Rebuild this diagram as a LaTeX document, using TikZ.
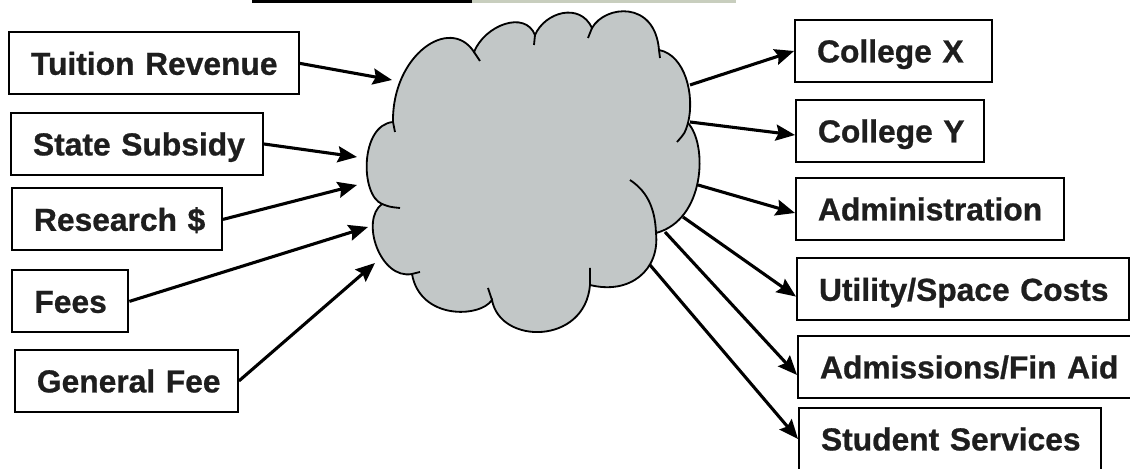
\documentclass[tikz,border=0pt]{standalone}
\usepackage{fontspec}
\newfontfamily\boxfont{Liberation Sans Bold}[FakeBold=0.8]
\usetikzlibrary{arrows.meta}
\definecolor{cloudgray}{RGB}{194,199,199}
\definecolor{rulefade}{RGB}{200,206,190}
\definecolor{inkgray}{RGB}{30,30,30}
\hyphenpenalty=10000
\exhyphenpenalty=10000

\begin{document}
\begin{tikzpicture}[
  >={Stealth[length=0.48cm,width=0.4cm,inset=0.07cm]},
  box/.style={draw,line width=1.4pt,minimum height=1.55cm,inner xsep=0.55cm,
    align=left,text height=16.2pt,text depth=0pt,text=inkgray,
    font=\boxfont\fontsize{22.6}{26}\selectfont},
  flow/.style={->,line width=2.2pt}
]
\useasboundingbox (0,0) rectangle (28.25,11.725);
% title rule, cut by the top edge
\draw[line width=2.2pt] (6.3,11.69)--(11.8,11.69);
\draw[line width=2.2pt,rulefade] (11.8,11.69)--(18.4,11.69);
% the cloud
\filldraw[fill=cloudgray,line width=1.3pt]
  (9.825,8.675) .. controls (9.8,10.35) and (11.25,11.35) .. (11.85,10.425)
  .. controls (12.125,11.1) and (13.125,11.475) .. (13.375,10.85)
  .. controls (13.625,11.425) and (14.5,11.675) .. (14.8,11.025)
  .. controls (15.125,11.6) and (16.375,11.725) .. (16.475,10.475)
  .. controls (17.125,10.35) and (17.375,9.35) .. (17.2,8.65)
  .. controls (17.7,8.1) and (17.625,6.225) .. (16.4,5.9)
  .. controls (16.5,4.975) and (15.75,4.35) .. (14.75,4.6)
  .. controls (14.625,3.1) and (12.5,3.1) .. (12.3,4.225)
  .. controls (12.0,3.775) and (10.5,3.725) .. (10.3,4.875)
  .. controls (9.5,4.725) and (9.0,6.225) .. (9.55,6.625)
  .. controls (9.0,6.85) and (9.0,8.6) .. (9.825,8.675) -- cycle;
\draw[line width=1.3pt]
  (9.825,8.675) -- (9.875,8.425)
  (11.85,10.425) -- (12.0,10.2)
  (13.375,10.85) -- (13.35,10.6)
  (14.8,11.025) -- (14.7,10.775)
  (16.475,10.475) -- (16.5,10.275)
  (17.2,8.65) .. controls (17.125,8.4) .. (16.925,8.175)
  (16.4,5.9) .. controls (16.375,6.6) and (16.125,6.975) .. (15.75,7.225)
  (14.75,4.6) -- (14.75,5.025)
  (12.3,4.225) -- (12.2,4.525)
  (10.3,4.875) -- (10.5,4.925)
  (9.55,6.625) .. controls (9.75,6.55) .. (10.0,6.525);
\coordinate (inTui) at (9.8,9.725);
\coordinate (inSta) at (8.925,7.8);
\coordinate (inRes) at (8.925,7.1);
\coordinate (inFee) at (9.2,6.05);
\coordinate (inGen) at (9.375,5.15);
\coordinate (outX) at (17.25,9.6);
\coordinate (outY) at (17.25,8.675);
\coordinate (outAdm) at (17.45,7.1);
\coordinate (outUti) at (17.075,6.3);
\coordinate (outAid) at (16.625,5.925);
\coordinate (outStu) at (16.25,5.1);
% sources
\node[box,text width=6.15cm] (tuition) at (3.85,10.14) {Tuition~Revenue};
\node[box,text width=5.2cm] (state) at (3.425,8.125) {State~Subsidy};
\node[box,text width=4.15cm] (research) at (2.925,6.24) {Research~\$};
\node[box,text width=1.8cm] (fees) at (1.76,4.19) {Fees};
\node[box,text width=4.475cm] (genfee) at (3.16,2.2) {General~Fee};
% uses
\node[box,text width=3.825cm] (colx) at (22.34,10.45) {College~X};
\node[box,text width=3.6cm] (coly) at (22.25,8.45) {College~Y};
\node[box,text width=5.6cm] (admin) at (23.25,6.5) {Administration};
\node[box,text width=7.2cm] (util) at (24.075,4.49) {Utility/Space~Costs};
\node[box,text width=7.45cm] (aid) at (24.225,2.55) {Admissions/Fin~Aid};
\node[box,text width=6.45cm] (student) at (23.75,0.75) {Student~Services};
\draw[flow] (tuition.east)--(inTui);
\draw[flow] (state.east)--(inSta);
\draw[flow] (research.east)--(inRes);
\draw[flow] (fees.east)--(inFee);
\draw[flow] (genfee.east)--(inGen);
\draw[flow] (outX)--(colx.west);
\draw[flow] (outY)--([yshift=-0.1cm]coly.west);
\draw[flow] (outAdm)--([yshift=-0.1cm]admin.west);
\draw[flow] (outUti)--([yshift=-0.18cm]util.west);
\draw[flow] (outAid)--([yshift=-0.2cm]aid.west);
\draw[flow] (outStu)--(student.west);
\end{tikzpicture}
\end{document}
